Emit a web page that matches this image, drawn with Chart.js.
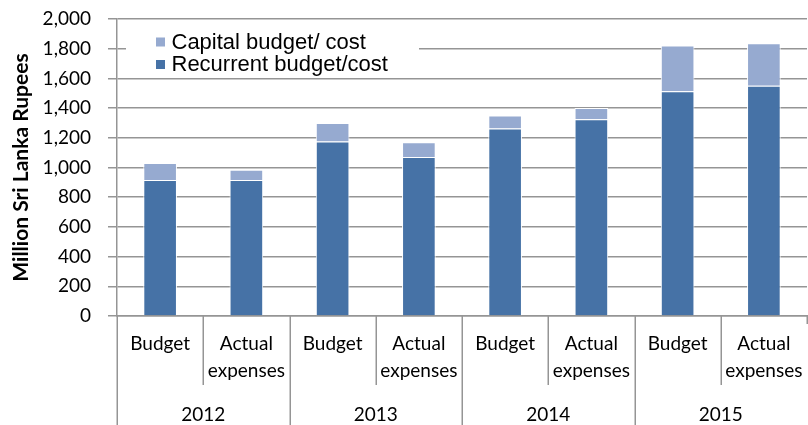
<!DOCTYPE html>
<html>
<head>
<meta charset="utf-8">
<script src="https://cdn.jsdelivr.net/npm/chart.js@4/dist/chart.umd.min.js"></script>
<style>
  html, body { margin: 0; padding: 0; background: #fff; }
  canvas { display: block; }
</style>
</head>
<body>
<canvas id="chart" width="808" height="425"></canvas>
<script>
// Budget vs. actual spending per year, split into recurrent and capital parts
const years = ['2012', '2013', '2014', '2015'];
const stages = [['Budget'], ['Actual', 'expenses']];
const recurrent = [915, 915, 1175, 1070, 1262, 1325, 1513, 1551];
const capital = [115, 70, 125, 100, 88, 75, 308, 285];
const seriesNames = ['Recurrent budget/cost', 'Capital budget/ cost'];
const yAxisTitle = 'Million Sri Lanka Rupees';

const categories = years.flatMap(() => stages);

const GRID = '#959595';
const DARK = '#4672A6';
const LIGHT = '#96AAD0';
const LABEL_FONT = 'Lato, "Open Sans", sans-serif';

// Draws the two-level category frame (separators + year row), the rotated axis title
// and the boxed legend inside the plot area.
const decorations = {
  id: 'decorations',
  afterDraw(chart) {
    const { ctx, chartArea } = chart;
    const x = chart.scales.x;
    const n = categories.length;
    const step = x.width / n;
    const bound = i => x.left + i * step;

    ctx.save();
    ctx.strokeStyle = GRID;
    ctx.lineWidth = 1.5;
    for (let i = 0; i <= n; i++) {
      const px = Math.min(Math.round(bound(i)) + 0.25, chart.width - 0.75);
      let bottom;
      if (i === n) bottom = chartArea.bottom + 8;
      else if (i % stages.length === 0) bottom = chart.height;
      else bottom = chartArea.bottom + 69;
      ctx.beginPath();
      ctx.moveTo(px, chartArea.bottom);
      ctx.lineTo(px, bottom);
      ctx.stroke();
    }

    // year row
    ctx.fillStyle = '#000';
    ctx.font = '19px ' + LABEL_FONT;
    ctx.textAlign = 'center';
    ctx.textBaseline = 'alphabetic';
    years.forEach((yr, k) => {
      const cx = (bound(k * stages.length) + bound((k + 1) * stages.length)) / 2;
      ctx.fillText(yr, cx, 420.5);
    });

    // y axis title, centred on the plot height
    ctx.save();
    ctx.translate(21, (chartArea.top + chartArea.bottom) / 2);
    ctx.rotate(-Math.PI / 2);
    ctx.font = 'bold 21px ' + LABEL_FONT;
    ctx.textAlign = 'center';
    ctx.textBaseline = 'middle';
    ctx.fillText(yAxisTitle, 0, 0);
    ctx.restore();

    // legend box
    ctx.fillStyle = '#fff';
    ctx.fillRect(126, 27, 293, 48);
    const items = chart.data.datasets.slice().reverse();
    ctx.font = '22px "Liberation Sans", Arial, sans-serif';
    ctx.textAlign = 'left';
    ctx.textBaseline = 'alphabetic';
    items.forEach((ds, i) => {
      const baseY = 48.5 + i * 22.5;
      ctx.fillStyle = ds.backgroundColor;
      ctx.fillRect(156, baseY - 11, 9, 9);
      ctx.fillStyle = '#000';
      ctx.fillText(ds.label, 171.5, baseY);
    });
    ctx.restore();
  }
};

function render() {
  new Chart(document.getElementById('chart'), {
    type: 'bar',
    data: {
      labels: categories,
      datasets: [
        { label: seriesNames[0], data: recurrent, backgroundColor: DARK,
          borderColor: '#ffffff', borderWidth: 1 },
        { label: seriesNames[1], data: capital, backgroundColor: LIGHT,
          borderColor: '#ffffff', borderWidth: 1 }
      ]
    },
    options: {
      responsive: false,
      devicePixelRatio: 1,
      animation: false,
      layout: { padding: { top: 19, right: 1, left: 0, bottom: 0 } },
      datasets: { bar: { categoryPercentage: 1, barPercentage: 0.39 } },
      plugins: { legend: { display: false }, tooltip: { enabled: false } },
      scales: {
        x: {
          stacked: true,
          grid: { display: false, drawTicks: false },
          border: { display: true, color: GRID, width: 1.5 },
          ticks: {
            color: '#000',
            font: { family: LABEL_FONT, size: 19, lineHeight: 1.4 },
            padding: 15,
            maxRotation: 0,
            autoSkip: false
          },
          afterFit(scale) {
            scale.height = 109;
            scale.paddingLeft = 0;
            scale.paddingRight = 0;
          }
        },
        y: {
          stacked: true,
          min: 0,
          max: 2000,
          grid: { color: GRID, lineWidth: 1.5, tickLength: 9, drawTicks: true },
          border: { display: true, color: GRID, width: 1.5 },
          ticks: {
            stepSize: 200,
            color: '#000',
            padding: 17,
            font: { family: LABEL_FONT, size: 19 },
            callback: v => v.toLocaleString('en-US')
          },
          afterFit(scale) {
            scale.width = 117;
            scale.paddingTop = 0;
            scale.paddingBottom = 0;
          }
        }
      }
    },
    plugins: [decorations]
  });
}

Promise.all([
  document.fonts.load('19px Lato'),
  document.fonts.load('bold 21px Lato'),
  document.fonts.load('22px "Liberation Sans"')
]).catch(() => {}).then(render);
</script>
</body>
</html>
